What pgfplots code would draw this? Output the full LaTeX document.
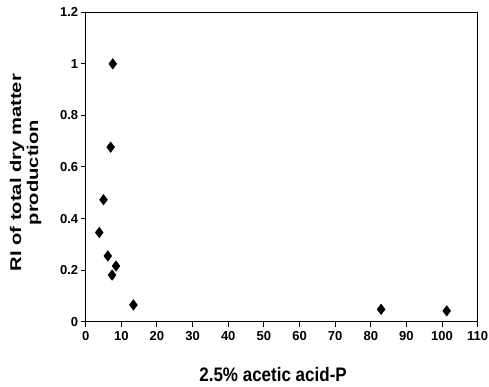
\documentclass[border=0pt]{standalone}
\usepackage{pgfplots}
\pgfplotsset{compat=1.18}
\usetikzlibrary{calc}
\usepackage{fontspec}
\setmainfont{Liberation Sans}
\begin{document}
\begin{tikzpicture}
\begin{axis}[
  scale only axis,
  width=392pt, height=309.4pt,
  xmin=0, xmax=110, ymin=0, ymax=1.2,
  xtick={0,10,...,110},
  ytick={0,0.2,...,1.2},
  axis lines=box,
  tick pos=left,
  tick align=outside,
  major tick length=5pt,
  axis line style={line width=1pt},
  every tick/.style={black, line width=1pt},
  /pgf/number format/assume math mode=true,
  tick label style={font=\fontsize{13}{14}\selectfont\bfseries},
  yticklabel style={xshift=1pt},
  xticklabel style={yshift=-1pt},
  xlabel={2.5\% acetic acid-P},
  xlabel style={font=\fontsize{17}{18}\selectfont\bfseries, yscale=1.15, at={(axis description cs:0.478,-0.172)}, anchor=center},
  ylabel={RI of total dry matter\\production},
  ylabel style={font=\fontsize{15.5}{17}\selectfont\bfseries, align=center, xscale=1.3, at={(axis description cs:-0.104,0.482)}, anchor=south},
  clip=false,
]
\addplot[only marks, mark=diamond*, mark size=5.3pt, mark options={fill=black, draw=black}] coordinates {
  (7.6,1.0)
  (7.0,0.677)
  (5.0,0.473)
  (3.8,0.346)
  (6.2,0.255)
  (8.5,0.216)
  (7.4,0.181)
  (13.4,0.065)
  (82.9,0.048)
  (101.3,0.042)
};
\end{axis}
\pgfresetboundingbox
\path[use as bounding box] ($(current axis.south west)+(-85.7pt,-65.3pt)$) rectangle ($(current axis.north east)+(11.3pt,12.3pt)$);
\end{tikzpicture}
\end{document}
